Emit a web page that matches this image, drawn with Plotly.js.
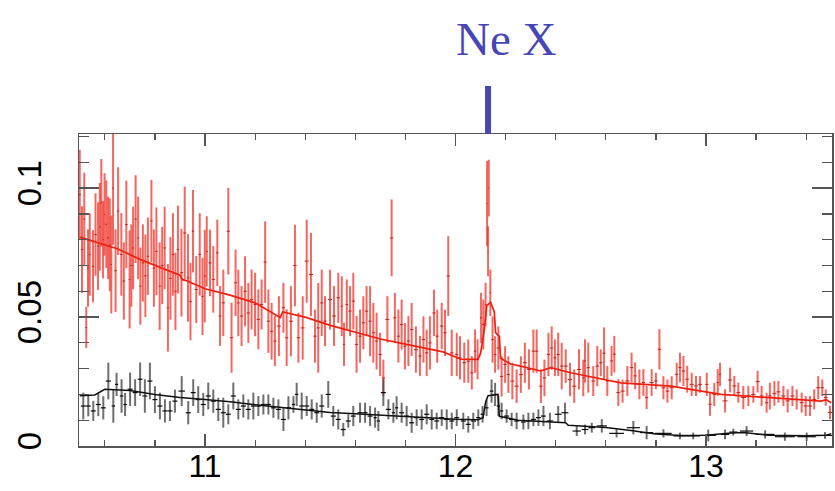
<!DOCTYPE html>
<html>
<head>
<meta charset="utf-8">
<script src="https://cdn.plot.ly/plotly-3.0.1.min.js"></script>
<style>html,body{margin:0;padding:0;background:#fff;}#chart{width:835px;height:491px;}</style>
</head>
<body>
<div id="chart"></div>
<script>
// ---- Red spectrum (data) ----
const redX = [10.500,10.509,10.518,10.526,10.533,10.540,10.553,10.563,10.573,10.580,10.586,10.593,10.599,10.606,10.613,10.620,10.626,10.633,10.643,10.653,10.666,10.676,10.686,10.699,10.706,10.713,10.723,10.733,10.742,10.752,10.762,10.772,10.786,10.796,10.806,10.819,10.829,10.839,10.852,10.862,10.872,10.882,10.892,10.906,10.919,10.932,10.942,10.952,10.965,10.979,10.990,10.999,
11.007,11.020,11.033,11.049,11.060,11.073,11.093,11.106,11.122,11.133,11.146,11.160,11.173,11.186,11.200,11.213,11.226,11.240,11.253,11.266,11.279,11.295,11.313,11.326,11.343,11.359,11.373,11.390,11.406,11.423,11.439,11.452,11.466,11.479,11.499,11.515,
11.532,11.546,11.555,11.566,11.579,11.592,11.605,11.619,11.632,11.645,11.659,11.672,11.685,11.699,11.712,11.728,11.745,11.758,11.772,11.785,11.798,11.812,11.825,11.842,11.858,11.872,11.885,11.898,11.914,11.927,11.945,11.958,11.971,11.985,
12.005,12.018,12.035,12.051,12.065,12.078,12.088,12.102,12.111,12.120,12.126,12.130,12.133,12.139,12.148,12.158,12.171,12.184,12.198,12.211,12.227,12.244,12.261,12.277,12.293,12.311,12.324,12.341,12.355,12.371,12.384,12.397,12.410,12.424,12.440,12.457,12.474,12.493,12.510,
12.517,12.530,12.550,12.566,12.580,12.593,12.606,12.623,12.634,12.650,12.667,12.686,12.703,12.717,12.734,12.750,12.763,12.783,12.800,12.814,12.830,12.846,12.863,12.883,12.896,12.910,12.925,12.943,12.960,12.976,
13.003,13.016,13.033,13.047,13.056,13.076,13.096,13.113,13.129,13.149,13.169,13.189,13.206,13.222,13.242,13.255,13.273,13.289,13.309,13.326,13.345,13.362,13.382,13.398,13.415,13.432,13.448,13.464,13.478,13.495];
const redY = [0.0975,0.0762,0.0880,0.0460,0.0690,0.0743,0.0697,0.0820,0.0775,0.0850,0.0943,0.0800,0.0898,0.0860,0.0807,0.0780,0.0704,0.1000,0.0680,0.0911,0.0743,0.0640,0.0859,0.0646,0.0700,0.0768,0.0880,0.0807,0.0620,0.0710,0.0660,0.0736,0.0872,0.0690,0.0755,0.0620,0.0700,0.0768,0.0536,0.0650,0.0743,0.0600,0.0762,0.0672,0.0826,0.0652,0.0560,0.0833,0.0607,0.0743,0.0580,0.0659,
0.0755,0.0710,0.0646,0.0749,0.0504,0.0555,0.0833,0.0420,0.0633,0.0555,0.0504,0.0600,0.0516,0.0568,0.0549,0.0491,0.0549,0.0713,0.0484,0.0445,0.0407,0.0465,0.0536,0.0420,0.0484,0.0700,0.0420,0.0458,0.0717,0.0665,0.0426,0.0458,0.0555,0.0484,0.0568,0.0504,
0.0575,0.0542,0.0394,0.0549,0.0523,0.0562,0.0394,0.0426,0.0478,0.0523,0.0484,0.0439,0.0407,0.0355,0.0264,0.0491,0.0807,0.0497,0.0426,0.0471,0.0387,0.0407,0.0452,0.0374,0.0349,0.0413,0.0361,0.0400,0.0516,0.0426,0.0465,0.0439,0.0659,0.0361,
0.0355,0.0342,0.0323,0.0329,0.0284,0.0368,0.0336,0.0497,0.0471,0.0549,0.0940,0.0755,0.1000,0.0594,0.0413,0.0355,0.0380,0.0270,0.0316,0.0277,0.0252,0.0232,0.0277,0.0323,0.0297,0.0368,0.0368,0.0232,0.0264,0.0355,0.0380,0.0342,0.0355,0.0310,0.0310,0.0258,0.0232,0.0297,0.0264,
0.0330,0.0304,0.0252,0.0310,0.0323,0.0360,0.0252,0.0330,0.0356,0.0207,0.0213,0.0252,0.0304,0.0272,0.0239,0.0246,0.0188,0.0246,0.0252,0.0375,0.0226,0.0213,0.0226,0.0278,0.0304,0.0291,0.0259,0.0239,0.0233,0.0239,
0.0239,0.0162,0.0200,0.0246,0.0278,0.0175,0.0256,0.0233,0.0207,0.0188,0.0194,0.0200,0.0250,0.0194,0.0168,0.0194,0.0204,0.0210,0.0194,0.0175,0.0194,0.0181,0.0168,0.0155,0.0155,0.0181,0.0226,0.0226,0.0188,0.0130];
const redErr = [0.0174,0.0168,0.0180,0.0080,0.0150,0.0160,0.0140,0.0160,0.0170,0.0170,0.0170,0.0150,0.0160,0.0170,0.0160,0.0180,0.0190,0.0220,0.0160,0.0170,0.0160,0.0150,0.0170,0.0190,0.0160,0.0160,0.0170,0.0160,0.0150,0.0150,0.0160,0.0150,0.0160,0.0150,0.0170,0.0170,0.0150,0.0160,0.0170,0.0160,0.0160,0.0150,0.0170,0.0170,0.0180,0.0170,0.0150,0.0160,0.0130,0.0160,0.0150,0.0180,
0.0136,0.0129,0.0129,0.0129,0.0116,0.0129,0.0168,0.0136,0.0129,0.0129,0.0116,0.0136,0.0116,0.0116,0.0123,0.0116,0.0097,0.0158,0.0123,0.0110,0.0097,0.0116,0.0097,0.0110,0.0136,0.0158,0.0097,0.0123,0.0161,0.0161,0.0103,0.0174,0.0129,0.0097,0.0116,0.0116,
0.0097,0.0116,0.0084,0.0097,0.0097,0.0110,0.0110,0.0103,0.0103,0.0097,0.0136,0.0116,0.0110,0.0084,0.0071,0.0090,0.0149,0.0097,0.0103,0.0097,0.0090,0.0097,0.0103,0.0090,0.0078,0.0090,0.0090,0.0103,0.0090,0.0103,0.0090,0.0090,0.0155,0.0090,
0.0084,0.0084,0.0078,0.0084,0.0065,0.0084,0.0078,0.0097,0.0097,0.0084,0.0165,0.0097,0.0110,0.0090,0.0090,0.0071,0.0084,0.0078,0.0071,0.0071,0.0071,0.0065,0.0071,0.0078,0.0078,0.0084,0.0084,0.0065,0.0071,0.0084,0.0084,0.0071,0.0084,0.0090,0.0065,0.0065,0.0065,0.0078,0.0071,
0.0084,0.0097,0.0058,0.0078,0.0052,0.0100,0.0058,0.0058,0.0071,0.0052,0.0045,0.0058,0.0058,0.0052,0.0058,0.0052,0.0045,0.0052,0.0032,0.0078,0.0045,0.0045,0.0045,0.0045,0.0058,0.0058,0.0052,0.0045,0.0039,0.0032,
0.0045,0.0045,0.0045,0.0052,0.0045,0.0045,0.0048,0.0039,0.0039,0.0045,0.0039,0.0032,0.0042,0.0039,0.0039,0.0052,0.0048,0.0042,0.0039,0.0045,0.0039,0.0039,0.0039,0.0039,0.0039,0.0039,0.0045,0.0032,0.0032,0.0026];

// ---- Red model ----
const redModelX = [10.50,10.55,10.65,10.75,10.85,10.90,10.91,10.93,11.00,11.10,11.20,11.29,11.30,11.31,11.32,11.40,11.50,11.60,11.70,11.80,11.90,11.95,12.00,12.02,12.09,12.10,12.115,12.125,12.14,12.155,12.16,12.175,12.18,12.22,12.26,12.34,12.38,12.46,12.66,12.86,13.06,13.26,13.46,13.48,13.50];
const redModelY = [0.0810,0.0795,0.0765,0.0720,0.0680,0.0662,0.0645,0.0640,0.0610,0.0585,0.0555,0.0505,0.0498,0.0520,0.0518,0.0500,0.0468,0.0440,0.0415,0.0395,0.0375,0.0365,0.0345,0.0337,0.0336,0.0360,0.0450,0.0545,0.0557,0.0520,0.0440,0.0425,0.0340,0.0318,0.0310,0.0291,0.0304,0.0284,0.0245,0.0232,0.0200,0.0187,0.0174,0.0180,0.0168];

// ---- Black spectrum (data) ----
const blackX = [10.514,10.534,10.554,10.574,10.594,10.614,10.634,10.647,10.667,10.681,10.701,10.721,10.741,10.760,10.780,10.800,10.820,10.840,10.860,10.880,10.907,10.933,10.953,10.973,10.993,11.013,11.033,11.053,11.073,11.093,11.113,11.133,11.153,11.173,11.193,11.213,
11.233,11.253,11.273,11.293,11.313,11.333,11.353,11.366,11.386,11.406,11.426,11.446,11.466,11.492,11.512,11.532,11.552,11.572,11.592,11.619,11.639,11.659,11.679,11.692,11.712,11.732,11.752,11.765,11.785,11.805,11.825,11.845,11.865,11.885,11.905,11.925,11.945,11.965,11.985,
12.005,12.031,12.051,12.071,12.091,12.108,12.124,12.144,12.158,12.171,12.184,12.204,12.224,12.244,12.271,12.291,12.311,12.331,12.351,12.377,12.410,12.437,12.484,12.517,12.544,12.584,12.643,12.710,12.763,12.830,12.896,12.949,13.009,13.076,13.109,13.162,13.236,13.315,13.402,13.475];
const blackY = [0.0155,0.0155,0.0136,0.0161,0.0148,0.0252,0.0155,0.0239,0.0194,0.0161,0.0220,0.0207,0.0259,0.0194,0.0252,0.0180,0.0155,0.0136,0.0136,0.0174,0.0213,0.0129,0.0207,0.0180,0.0161,0.0194,0.0174,0.0142,0.0129,0.0123,0.0194,0.0142,0.0155,0.0142,0.0155,0.0155,
0.0161,0.0161,0.0148,0.0142,0.0103,0.0148,0.0161,0.0200,0.0155,0.0155,0.0142,0.0129,0.0155,0.0200,0.0116,0.0103,0.0064,0.0097,0.0116,0.0129,0.0129,0.0116,0.0110,0.0097,0.0207,0.0142,0.0129,0.0148,0.0129,0.0116,0.0090,0.0110,0.0103,0.0123,0.0103,0.0097,0.0110,0.0103,0.0097,
0.0110,0.0097,0.0084,0.0097,0.0110,0.0123,0.0148,0.0213,0.0200,0.0155,0.0136,0.0116,0.0103,0.0097,0.0093,0.0097,0.0103,0.0110,0.0116,0.0097,0.0123,0.0129,0.0058,0.0064,0.0071,0.0078,0.0049,0.0071,0.0052,0.0049,0.0039,0.0039,0.0041,0.0045,0.0054,0.0058,0.0045,0.0036,0.0036,0.0041];
const blackErr = [0.0052,0.0040,0.0039,0.0045,0.0045,0.0071,0.0065,0.0045,0.0065,0.0045,0.0065,0.0052,0.0065,0.0065,0.0071,0.0052,0.0052,0.0045,0.0039,0.0045,0.0058,0.0045,0.0052,0.0052,0.0045,0.0052,0.0045,0.0045,0.0058,0.0039,0.0052,0.0039,0.0045,0.0039,0.0052,0.0039,
0.0039,0.0039,0.0039,0.0039,0.0045,0.0045,0.0032,0.0045,0.0052,0.0039,0.0039,0.0039,0.0045,0.0052,0.0039,0.0039,0.0026,0.0026,0.0039,0.0039,0.0039,0.0039,0.0039,0.0039,0.0052,0.0039,0.0039,0.0045,0.0039,0.0039,0.0039,0.0032,0.0039,0.0039,0.0039,0.0032,0.0032,0.0039,0.0032,
0.0032,0.0032,0.0032,0.0032,0.0032,0.0032,0.0032,0.0045,0.0045,0.0039,0.0032,0.0026,0.0026,0.0032,0.0029,0.0032,0.0026,0.0032,0.0039,0.0032,0.0032,0.0039,0.0019,0.0019,0.0019,0.0026,0.0016,0.0026,0.0026,0.0016,0.0013,0.0013,0.0023,0.0019,0.0013,0.0019,0.0016,0.0016,0.0016,0.0013];

// ---- Black model ----
const blackModelX = [10.50,10.56,10.60,10.70,10.80,10.90,11.00,11.10,11.20,11.30,11.40,11.50,11.60,11.70,11.80,11.90,12.00,12.09,12.11,12.12,12.13,12.17,12.175,12.25,12.40,12.44,12.45,12.60,12.70,12.80,12.90,13.00,13.10,13.15,13.25,13.40,13.48,13.50];
const blackModelY = [0.0195,0.0198,0.0220,0.0215,0.0200,0.0188,0.0180,0.0172,0.0160,0.0150,0.0140,0.0130,0.0125,0.0120,0.0115,0.0108,0.0104,0.0102,0.0110,0.0170,0.0195,0.0200,0.0115,0.0100,0.0090,0.0090,0.0080,0.0072,0.0060,0.0047,0.0041,0.0042,0.0050,0.0052,0.0042,0.0040,0.0042,0.0048];

// ---- Axis ticks & label ----
const xTickVals = [11, 12, 13];
const xTickText = ['11', '12', '13'];
const yTickVals = [0, 0.05, 0.1];
const yTickText = ['0', '0.05', '0.1'];
const lineLabel = 'Ne X';
const lineX = [12.13];

function halfWidths(xs) {
  return xs.map((v, i) => {
    const prev = i > 0 ? xs[i - 1] : null;
    const next = i < xs.length - 1 ? xs[i + 1] : null;
    const dl = prev !== null ? v - prev : (next - v);
    const dr = next !== null ? next - v : (v - prev);
    return Math.min(dl, dr) / 2;
  });
}

const traces = [
  {
    x: redX, y: redY, type: 'scatter', mode: 'markers',
    marker: {size: 1, color: 'rgba(0,0,0,0)'},
    error_y: {type: 'data', array: redErr, visible: true, color: 'rgba(240,45,35,0.72)', thickness: 2, width: 0},
    error_x: {type: 'data', array: halfWidths(redX), visible: true, color: 'rgba(190,20,10,0.9)', thickness: 1, width: 0},
    hoverinfo: 'skip'
  },
  {
    x: blackX, y: blackY, type: 'scatter', mode: 'markers',
    marker: {size: 1, color: 'rgba(0,0,0,0)'},
    error_y: {type: 'data', array: blackErr, visible: true, color: 'rgba(70,70,70,0.78)', thickness: 2, width: 0},
    error_x: {type: 'data', array: halfWidths(blackX), visible: true, color: 'rgba(0,0,0,0.95)', thickness: 1.2, width: 0},
    hoverinfo: 'skip'
  },
  {
    x: redModelX, y: redModelY, type: 'scatter', mode: 'lines',
    line: {color: '#f02010', width: 1.7}, hoverinfo: 'skip'
  },
  {
    x: blackModelX, y: blackModelY, type: 'scatter', mode: 'lines',
    line: {color: '#111111', width: 1.5, shape: 'linear'}, hoverinfo: 'skip'
  }
];

const xTickFont = {family: 'Liberation Sans', size: 32, color: '#000'};
const yTickFont = {family: 'Liberation Sans', size: 33, color: '#000'};

const layout = {
  width: 835, height: 491,
  margin: {l: 79, r: 3, t: 134, b: 45},
  paper_bgcolor: '#ffffff', plot_bgcolor: '#ffffff',
  showlegend: false,
  xaxis: {
    range: [10.497, 13.503], tickmode: 'array', tickvals: xTickVals, ticktext: xTickText,
    ticks: 'inside', ticklen: 12, tickwidth: 1.5, tickcolor: '#555',
    minor: {dtick: 0.2, tick0: 0, ticks: 'inside', ticklen: 6, tickwidth: 1.2, tickcolor: '#555'},
    showline: true, linecolor: '#555', linewidth: 1.5, mirror: 'ticks',
    showgrid: false, zeroline: false, tickfont: xTickFont, ticklabelstandoff: -9
  },
  yaxis: {
    range: [0, 0.121], tickmode: 'array', tickvals: yTickVals, ticktext: yTickText,
    tickangle: -90,
    ticks: 'inside', ticklen: 20, tickwidth: 1.5, tickcolor: '#555',
    minor: {dtick: 0.01, tick0: 0, ticks: 'inside', ticklen: 10, tickwidth: 1.2, tickcolor: '#555'},
    showline: true, linecolor: '#555', linewidth: 1.5, mirror: 'ticks',
    showgrid: false, zeroline: false, tickfont: yTickFont, ticklabelstandoff: 23
  },
  shapes: [{
    type: 'line', xref: 'x', yref: 'paper', x0: lineX[0], x1: lineX[0], y0: 1.0, y1: 1.154,
    line: {color: '#4646b4', width: 6}
  }],
  annotations: [{
    text: lineLabel, xref: 'x', yref: 'paper', x: 12.202, y: 1.305,
    xanchor: 'center', yanchor: 'middle', showarrow: false,
    font: {family: 'Liberation Serif', size: 47, color: '#4646b4'}
  }]
};

Plotly.newPlot('chart', traces, layout, {displayModeBar: false, staticPlot: true});
</script>
</body>
</html>
